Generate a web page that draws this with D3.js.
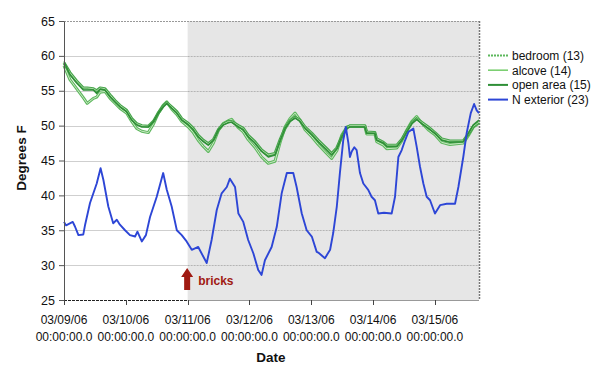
<!DOCTYPE html>
<html><head><meta charset="utf-8">
<script src="https://cdn.jsdelivr.net/npm/d3@7"></script>
<style>
html,body{margin:0;padding:0;background:#fff;}
svg{display:block;}
text{font-family:"Liberation Sans",Arial,sans-serif;}
</style></head>
<body>
<svg id="chart" width="600" height="373"></svg>
<script>
// ---------- data ----------
const dateLabels = ["03/09/06","03/10/06","03/11/06","03/12/06","03/13/06","03/14/06","03/15/06"];
const timeLabel = "00:00:00.0";
const yTicks = [25,30,35,40,45,50,55,60,65];
const seriesNames = ["bedroom (13)","alcove (14)","open area (15)","N exterior (23)"];

// hours since 03/09/06 00:00
const greenT = [0,2.3,4.9,7.5,9.0,11.4,12.7,14.0,15.9,17.9,19.8,21.7,24.3,26.3,28.2,30.2,32.7,34.7,36.6,38.5,39.9,41.8,43.8,45.7,48.3,50.2,52.1,54.1,56.0,58.0,59.9,61.8,63.8,65.1,67.7,69.6,71.5,74.1,76.7,79.3,81.9,83.9,85.8,87.7,89.7,91.6,93.6,96.2,98.7,102.0,103.9,105.9,107.8,109.8,111.0,116.8,117.5,120.7,121.4,124.0,125.3,129.2,131.1,133.0,135.0,136.9,138.8,141.4,144.0,146.6,149.8,155.0,157.0,158.9,161.1];
const openArea = [59.2,57.3,56.1,55.1,55.1,55.1,54.6,55.2,55.1,54.1,
 53.4,52.7,52.0,50.8,50.1,49.8,49.8,50.6,51.8,52.7,
 53.2,52.5,51.8,50.8,50.1,49.4,48.4,47.7,47.2,47.9,
 49.4,50.1,50.4,50.5,49.8,49.4,48.4,47.5,46.3,45.5,
 45.8,47.9,49.6,50.6,51.1,50.6,49.6,48.7,47.7,46.5,
 45.8,46.7,48.4,49.6,49.8,49.8,48.9,48.9,47.9,47.5,
 47.0,47.0,47.9,49.1,50.3,50.9,50.3,49.6,48.9,47.9,
 47.6,47.7,48.9,50.1,50.8];
const bedroom = [59.0,57.6,56.4,55.4,55.4,55.3,55.0,55.4,55.3,54.4,
 53.6,52.9,52.2,51.0,50.3,50.0,49.9,50.6,51.8,52.8,
 53.3,52.7,52.0,51.0,50.3,49.6,48.6,47.9,47.4,48.0,
 49.4,50.2,50.6,50.6,50.0,49.6,48.6,47.7,46.5,45.8,
 46.0,48.0,49.6,50.7,51.2,50.8,49.8,48.9,47.9,46.7,
 46.0,46.8,48.4,49.7,50.0,50.0,49.1,49.0,48.1,47.6,
 47.2,47.2,48.0,49.2,50.4,51.0,50.5,49.8,49.0,48.1,
 47.8,47.8,48.8,49.9,50.5];
const alcove = [58.6,56.6,55.3,54.0,53.2,53.9,54.1,54.8,54.9,53.9,
 53.2,52.5,51.8,50.6,49.6,49.2,49.0,50.2,51.8,52.9,
 53.4,52.4,51.6,50.6,49.8,49.0,47.9,47.0,46.3,47.5,
 49.3,50.3,50.7,50.9,49.7,49.1,48.0,46.9,45.5,44.6,
 44.9,47.6,49.8,51.0,51.8,50.8,49.4,48.4,47.3,46.0,
 45.3,46.4,48.6,49.8,49.9,49.9,48.8,48.8,47.7,47.2,
 46.7,46.8,47.8,49.3,50.6,51.3,50.4,49.4,48.7,47.6,
 47.3,47.5,48.6,49.8,50.4];

const extT = [0,0.8,3.4,4.3,5.6,7.5,8.2,10.1,11.4,12.7,14.2,15.3,17.2,19.1,20.5,21.7,23.7,25.6,27.6,28.5,30.2,31.8,33.4,36.0,38.5,39.9,41.8,43.8,45.7,47.6,49.6,52.1,55.4,57.3,59.3,61.2,63.2,64.4,66.4,67.7,69.6,71.5,73.5,75.4,76.7,78.0,80.6,82.6,84.5,86.5,89.0,90.3,92.3,94.2,96.2,98.1,98.7,101.3,103.3,104.5,105.9,107.1,108.4,109.4,110.4,111.0,111.7,112.7,113.6,114.9,116.2,118.1,119.4,120.7,122.0,124.2,127.2,128.5,129.8,131.1,132.4,133.7,135.6,136.9,138.2,139.5,140.8,142.1,144.0,146.0,148.6,151.8,153.1,155.0,156.3,157.9,159.2,160.2,161.1];
const nExterior = [36.2,35.7,36.2,35.5,34.3,34.4,35.8,38.9,40.3,41.7,43.9,42.2,38.4,36.0,36.5,35.8,35.0,34.3,34.1,34.8,33.4,34.3,36.9,39.8,43.2,40.8,38.4,35.0,34.3,33.4,32.2,32.6,30.3,33.6,37.9,40.3,41.2,42.4,41.2,37.4,36.2,33.6,31.7,29.3,28.6,30.7,32.6,35.5,40.3,43.2,43.2,41.2,37.4,35.0,34.1,31.9,31.8,31.0,32.2,34.6,38.4,43.2,47.9,49.8,47.5,45.5,46.3,46.9,46.5,43.2,41.7,40.8,39.8,39.3,37.4,37.5,37.4,39.8,45.5,46.5,47.9,49.1,49.6,47.0,44.1,41.7,39.8,39.3,37.4,38.6,38.8,38.8,41.2,45.5,48.9,51.8,53.1,52.2,51.8];

const bricksHour = 48;
const tEnd = 161.1;

// ---------- drawing ----------
const svg = d3.select("#chart");
const L = 64, R = 479, T = 21, B = 300;
const x = d3.scaleLinear().domain([0, tEnd]).range([L, R]);
const y = d3.scaleLinear().domain([25, 65]).range([B, T]);

// shaded region after bricks
svg.append("rect").attr("x", x(bricksHour)).attr("y", T)
  .attr("width", R - x(bricksHour)).attr("height", B - T).attr("fill", "#e6e6e6");

// grid lines
const grid = svg.append("g");
yTicks.filter(v => v > 25 && v < 65).forEach(v => {
  grid.append("line").attr("x1", L).attr("x2", x(bricksHour)).attr("y1", Math.round(y(v)) + 0.5).attr("y2", Math.round(y(v)) + 0.5)
    .attr("stroke", "#cfcfcf").attr("stroke-width", 1);
  grid.append("line").attr("x1", x(bricksHour)).attr("x2", R).attr("y1", Math.round(y(v)) + 0.5).attr("y2", Math.round(y(v)) + 0.5)
    .attr("stroke", "#b4b4b4").attr("stroke-width", 1).attr("stroke-dasharray", "2,1");
});
// top and right borders
svg.append("line").attr("x1", L).attr("x2", R).attr("y1", T + 0.5).attr("y2", T + 0.5)
  .attr("stroke", "#999").attr("stroke-dasharray", "2,1");
svg.append("line").attr("x1", R + 0.5).attr("x2", R + 0.5).attr("y1", T).attr("y2", B)
  .attr("stroke", "#777").attr("stroke-width", 1.5).attr("stroke-dasharray", "2,1");

// lines
const gLine = d3.line().x(d => x(d[0])).y(d => y(d[1]));
const bLine = d3.line().x(d => x(d[0])).y(d => y(d[1]));

function hollow(vals, outer, inner) {
  const data = d3.zip(greenT, vals);
  svg.append("path").datum(data).attr("d", gLine).attr("fill", "none")
    .attr("stroke", outer).attr("stroke-width", 3).attr("stroke-linejoin", "round");
  svg.append("path").datum(data).attr("d", gLine).attr("fill", "none")
    .attr("stroke", inner).attr("stroke-width", 1).attr("stroke-linejoin", "round");
}
hollow(alcove, "#5fb85f", "#c9e8c4");
hollow(bedroom, "#45a44a", "#a9d9a3");
svg.append("path").datum(d3.zip(greenT, openArea)).attr("d", gLine).attr("fill", "none")
  .attr("stroke", "#2f8f37").attr("stroke-width", 1.5).attr("stroke-linejoin", "round");

svg.append("path").datum(d3.zip(extT, nExterior)).attr("d", bLine).attr("fill", "none")
  .attr("stroke", "#2d46d6").attr("stroke-width", 1.9).attr("stroke-linejoin", "round");

// y axis
const yAxis = svg.append("g").attr("transform", `translate(${L},0)`)
  .call(d3.axisLeft(y).tickValues(yTicks).tickSize(5).tickSizeOuter(0).tickPadding(4));
yAxis.select(".domain").attr("stroke", "#555");
yAxis.selectAll(".tick line").attr("stroke", "#555");
yAxis.selectAll("text").attr("font-size", 12.5).attr("fill", "#111")
  .attr("font-family", "Liberation Sans, Arial, sans-serif");

// x axis
const xTickVals = dateLabels.map((d, i) => i * 24);
svg.append("line").attr("x1", L).attr("x2", x(bricksHour)).attr("y1", B + 0.5).attr("y2", B + 0.5)
  .attr("stroke", "#222").attr("stroke-dasharray", "3,1");
svg.append("line").attr("x1", x(bricksHour)).attr("x2", R).attr("y1", B + 0.5).attr("y2", B + 0.5)
  .attr("stroke", "#999");
const xt = svg.append("g");
xTickVals.forEach((h, i) => {
  const px = Math.round(x(h)) + 0.5;
  xt.append("line").attr("x1", px).attr("x2", px).attr("y1", B).attr("y2", B + 5).attr("stroke", "#444");
  const t = xt.append("text").attr("x", x(h)).attr("text-anchor", "middle")
    .attr("font-size", 12).attr("fill", "#111");
  t.append("tspan").attr("x", x(h)).attr("y", 324).text(dateLabels[i]);
  t.append("tspan").attr("x", x(h)).attr("y", 341).text(timeLabel);
});

// axis titles
svg.append("text").attr("x", 271).attr("y", 362).attr("text-anchor", "middle")
  .attr("font-family", "DejaVu Sans, Verdana, sans-serif").attr("font-weight", "bold")
  .attr("font-size", 13.5).attr("fill", "#111").text("Date");
svg.append("text").attr("transform", "translate(26,158) rotate(-90)").attr("text-anchor", "middle")
  .attr("font-family", "DejaVu Sans, Verdana, sans-serif").attr("font-weight", "bold")
  .attr("font-size", 13.5).attr("fill", "#111").text("Degrees F");

// bricks annotation
const ax = x(bricksHour) - 0.5;
svg.append("path")
  .attr("d", `M${ax},268 L${ax + 6},277 L${ax + 3},277 L${ax + 3},290 L${ax - 3},290 L${ax - 3},277 L${ax - 6},277 Z`)
  .attr("fill", "#a01a12");
svg.append("text").attr("x", ax + 11).attr("y", 285)
  .attr("font-family", "DejaVu Sans, Verdana, sans-serif").attr("font-weight", "bold")
  .attr("font-size", 12).attr("fill", "#a01a12").text("bricks");

// legend
const legendRows = [
  {name: seriesNames[0], color: "#5cb85c", dash: "2,1", w: 2},
  {name: seriesNames[1], color: "#7ccf72", dash: null, w: 1.6},
  {name: seriesNames[2], color: "#2f8f37", dash: null, w: 2},
  {name: seriesNames[3], color: "#2d46d6", dash: null, w: 2}
];
const lg = svg.append("g");
legendRows.forEach((r, i) => {
  const ly = 55.5 + i * 14.7;
  const ln = lg.append("line").attr("x1", 488).attr("x2", 508).attr("y1", ly).attr("y2", ly)
    .attr("stroke", r.color).attr("stroke-width", r.w);
  if (r.dash) ln.attr("stroke-dasharray", r.dash);
  lg.append("text").attr("x", 512).attr("y", ly + 4.3).attr("font-size", 12).attr("fill", "#111").text(r.name);
});
</script>
</body></html>
